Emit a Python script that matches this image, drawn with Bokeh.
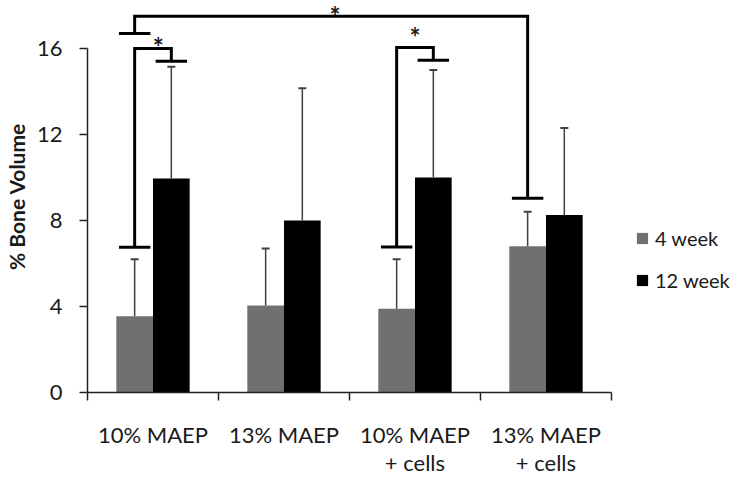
from bokeh.plotting import figure
from bokeh.models import (Range1d, FixedTicker, Whisker, TeeHead, Legend,
                          LegendItem, Label, ColumnDataSource)
from bokeh.embed import file_html
from bokeh.resources import INLINE
import numpy as np

# ---------------- data ----------------
categories = ["10% MAEP", "13% MAEP", "10% MAEP\n+ cells", "13% MAEP\n+ cells"]
series_names = ["4 week", "12 week"]
week4 = [3.55, 4.05, 3.9, 6.8]
week12 = [9.95, 8.0, 10.0, 8.25]
week4_upper = [6.2, 6.7, 6.2, 8.4]
week12_upper = [15.15, 14.15, 15.0, 12.3]
y_ticks = [0, 4, 8, 12, 16]

# significance brackets: (category index, series index) of each end
sig_start = [(0, 0), (0, 0), (2, 0)]
sig_end = [(0, 1), (3, 0), (2, 1)]
sig_start_level = [6.75, 16.7, 6.77]
sig_end_level = [15.4, 9.03, 15.45]
sig_top_level = [16.0, 17.5, 16.05]
sig_star_x = [0.54, 1.89, 2.5]
sig_star_level = [16.09, 17.52, 16.51]
sig_text = ["*", "*", "*"]

# ---------------- styling ----------------
FONT = "Lato"
TXT = "#1a1a1a"
GRAY = "#707070"
BAR_W = 0.28
CAP_HW = 0.12

n = len(categories)
centers = np.arange(n) + 0.5
x4 = centers - BAR_W / 2
x12 = centers + BAR_W / 2


def bar_x(cat, ser):
    return centers[cat] + (ser - 0.5) * BAR_W


p = figure(frame_width=653, frame_height=392, output_backend="svg",
           toolbar_location=None,
           x_range=Range1d(0, 4.985), y_range=Range1d(0, 18.23),
           min_border_left=81, min_border_bottom=0, min_border_top=0,
           min_border_right=0)
p.outline_line_color = None
p.xgrid.visible = False
p.ygrid.visible = False
p.background_fill_color = "white"

r4 = p.vbar(x=x4, top=week4, width=BAR_W, bottom=0,
            fill_color=GRAY, line_color=None)
r12 = p.vbar(x=x12, top=week12, width=BAR_W, bottom=0,
             fill_color="black", line_color=None)

# error bars (upper only)
for xs, lo, up in ((x4, week4, week4_upper), (x12, week12, week12_upper)):
    src = ColumnDataSource(dict(x=list(xs), lower=lo, upper=up))
    w = Whisker(base="x", lower="lower", upper="upper", source=src,
                dimension="height", line_color="#404040", line_width=1.5,
                lower_head=None,
                upper_head=TeeHead(size=8, line_color="#404040", line_width=2))
    w.level = "glyph"
    p.add_layout(w)

# significance brackets
paths_x, paths_y = [], []
for s, e, ls, le, top in zip(sig_start, sig_end, sig_start_level,
                             sig_end_level, sig_top_level):
    xl = bar_x(*s)
    xr = bar_x(*e)
    paths_x.append([xl, xl, xr, xr])
    paths_y.append([ls, top, top, le])
    paths_x.append([xl - CAP_HW, xl + CAP_HW])
    paths_y.append([ls, ls])
    paths_x.append([xr - CAP_HW, xr + CAP_HW])
    paths_y.append([le, le])
p.multi_line(xs=paths_x, ys=paths_y, line_color="black", line_width=3,
             line_join="miter", line_cap="butt")

for sx, sy, t in zip(sig_star_x, sig_star_level, sig_text):
    p.add_layout(Label(x=sx, y=sy, text=t, text_font=FONT,
                       text_font_size="26px", text_font_style="bold",
                       text_color=TXT, text_align="center",
                       text_baseline="middle"))

# axes
xa = p.xaxis[0]
xa.ticker = FixedTicker(ticks=list(centers), minor_ticks=list(range(n + 1)))
xa.major_label_overrides = {float(c): lab for c, lab in zip(centers, categories)}
xa.bounds = (0, n)
xa.major_tick_out = 0
xa.major_tick_in = 0
xa.minor_tick_out = 8
xa.minor_tick_in = 0
xa.minor_tick_line_color = "#222222"
xa.minor_tick_line_width = 1.5
xa.axis_line_color = "#222222"
xa.axis_line_width = 1.5
xa.major_label_standoff = 20
xa.major_label_text_font = FONT
xa.major_label_text_font_size = "22px"
xa.major_label_text_line_height = 1.06
xa.major_label_text_color = TXT

ya = p.yaxis[0]
ya.ticker = FixedTicker(ticks=y_ticks)
ya.bounds = (y_ticks[0], y_ticks[-1])
ya.major_tick_out = 8
ya.major_tick_in = 0
ya.minor_tick_out = 0
ya.minor_tick_in = 0
ya.major_tick_line_color = "#222222"
ya.major_tick_line_width = 1.5
ya.axis_line_color = "#222222"
ya.axis_line_width = 1.5
ya.major_label_standoff = 17
ya.major_label_text_font = FONT
ya.major_label_text_font_size = "22px"
ya.major_label_text_color = TXT
ya.axis_label = "% Bone Volume"
ya.axis_label_text_font = FONT
ya.axis_label_text_font_size = "21px"
ya.axis_label_text_font_style = "bold"
ya.axis_label_text_color = TXT
ya.axis_label_standoff = 5

legend = Legend(items=[LegendItem(label=series_names[0], renderers=[r4]),
                       LegendItem(label=series_names[1], renderers=[r12])],
                location=(548, 100), glyph_width=14, glyph_height=14,
                label_text_font=FONT, label_text_font_size="20px",
                label_text_color=TXT, label_standoff=6, spacing=18,
                padding=0, margin=0, border_line_color=None,
                background_fill_alpha=0)
p.add_layout(legend)

open("out.html", "w").write(file_html(p, INLINE))
